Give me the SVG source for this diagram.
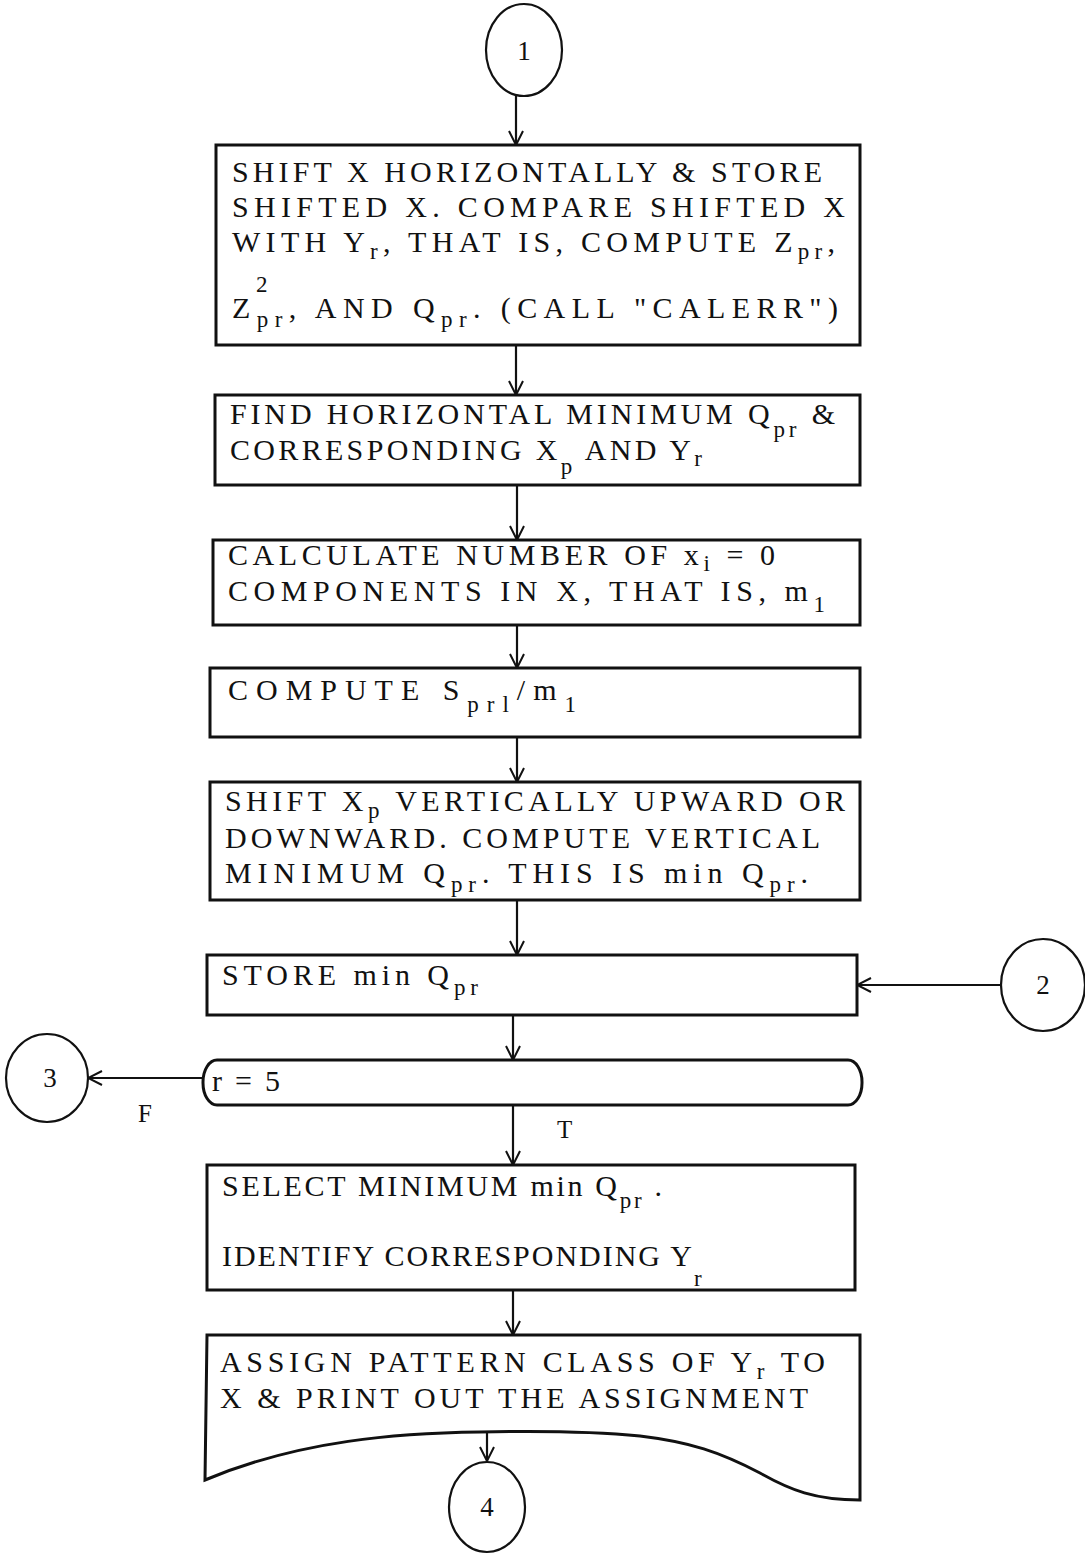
<svg xmlns="http://www.w3.org/2000/svg" width="1085" height="1556" viewBox="0 0 1085 1556">
<defs>
<marker id="arr" viewBox="0 0 20 20" refX="19" refY="10" markerWidth="20" markerHeight="20" markerUnits="userSpaceOnUse" orient="auto-start-reverse">
<path d="M5,3 L19,10 L5,17" fill="none" stroke="#111" stroke-width="2"/>
</marker>
<style>
.box{fill:#fff;stroke:#111;stroke-width:3}
.circ{fill:#fff;stroke:#111;stroke-width:2.2}
.con{fill:none;stroke:#111;stroke-width:2.2}
text{font-family:"Liberation Serif","DejaVu Serif",serif;font-size:30px;fill:#111}
.s{font-size:23px}
.c{font-size:27px;text-anchor:middle}
</style>
</defs>
<rect width="1085" height="1556" fill="#fff"/>

<g id="connectors">
<line class="con" x1="516" y1="96" x2="516" y2="145" marker-end="url(#arr)"/>
<line class="con" x1="516" y1="345" x2="516" y2="395" marker-end="url(#arr)"/>
<line class="con" x1="517" y1="485" x2="517" y2="540" marker-end="url(#arr)"/>
<line class="con" x1="517" y1="625" x2="517" y2="668" marker-end="url(#arr)"/>
<line class="con" x1="517" y1="737" x2="517" y2="782" marker-end="url(#arr)"/>
<line class="con" x1="517" y1="900" x2="517" y2="955" marker-end="url(#arr)"/>
<line class="con" x1="513" y1="1015" x2="513" y2="1060" marker-end="url(#arr)"/>
<line class="con" x1="1000" y1="985" x2="857" y2="985" marker-end="url(#arr)"/>
<line class="con" x1="203" y1="1078" x2="88" y2="1078" marker-end="url(#arr)"/>
<line class="con" x1="513" y1="1105" x2="513" y2="1165" marker-end="url(#arr)"/>
<line class="con" x1="513" y1="1290" x2="513" y2="1335" marker-end="url(#arr)"/>
<line class="con" x1="487" y1="1432" x2="487" y2="1461" marker-end="url(#arr)"/>
<text x="138" y="1122" style="font-size:25px">F</text>
<text x="557" y="1138" style="font-size:25px">T</text>
</g>

<g id="c1">
<ellipse class="circ" cx="524" cy="50" rx="38" ry="46"/>
<text class="c" x="524" y="60">1</text>
</g>

<g id="n1">
<rect class="box" x="216" y="145" width="644" height="200"/>
<text x="232" y="182" textLength="590" lengthAdjust="spacing">SHIFT X HORIZONTALLY &amp; STORE</text>
<text x="232" y="217" textLength="613" lengthAdjust="spacing">SHIFTED X.  COMPARE SHIFTED X</text>
<text x="232" y="252" textLength="603" lengthAdjust="spacing">WITH Y<tspan class="s" dy="7">r</tspan><tspan dy="-7">, THAT IS, COMPUTE Z</tspan><tspan class="s" dy="7">pr</tspan><tspan dy="-7">,</tspan></text>
<text class="s" x="256" y="292">2</text>
<text x="232" y="318" textLength="606" lengthAdjust="spacing">Z<tspan class="s" dy="9">pr</tspan><tspan dy="-9">, AND Q</tspan><tspan class="s" dy="9">pr</tspan><tspan dy="-9">. (CALL "CALERR")</tspan></text>
</g>

<g id="n2">
<rect class="box" x="215" y="395" width="645" height="90"/>
<text x="230" y="424" textLength="605" lengthAdjust="spacing">FIND HORIZONTAL MINIMUM Q<tspan class="s" dy="13">pr</tspan><tspan dy="-13"> &amp;</tspan></text>
<text x="230" y="460" textLength="472" lengthAdjust="spacing">CORRESPONDING X<tspan class="s" dy="14">p</tspan><tspan dy="-14"> AND Y</tspan><tspan class="s" dy="6">r</tspan></text>
</g>

<g id="n3">
<rect class="box" x="213" y="540" width="647" height="85"/>
<text x="228" y="565" textLength="547" lengthAdjust="spacing">CALCULATE NUMBER OF x<tspan class="s" dy="6">i</tspan><tspan dy="-6"> = 0</tspan></text>
<text x="228" y="601" textLength="597" lengthAdjust="spacing">COMPONENTS IN X, THAT IS, m<tspan class="s" dy="11">1</tspan></text>
</g>

<g id="n4">
<rect class="box" x="210" y="668" width="650" height="69"/>
<text x="228" y="700" textLength="348" lengthAdjust="spacing">COMPUTE S<tspan class="s" dy="12">prl</tspan><tspan dy="-12">/m</tspan><tspan class="s" dy="12">1</tspan></text>
</g>

<g id="n5">
<rect class="box" x="210" y="782" width="650" height="118"/>
<text x="225" y="811" textLength="620" lengthAdjust="spacing">SHIFT X<tspan class="s" dy="7">p</tspan><tspan dy="-7"> VERTICALLY UPWARD OR</tspan></text>
<text x="225" y="848" textLength="595" lengthAdjust="spacing">DOWNWARD. COMPUTE VERTICAL</text>
<text x="225" y="883" textLength="583" lengthAdjust="spacing">MINIMUM Q<tspan class="s" dy="9">pr</tspan><tspan dy="-9">. THIS IS min Q</tspan><tspan class="s" dy="9">pr</tspan><tspan dy="-9">.</tspan></text>
</g>

<g id="n6">
<rect class="box" x="207" y="955" width="650" height="60"/>
<text x="222" y="985" textLength="256" lengthAdjust="spacing">STORE min Q<tspan class="s" dy="10">pr</tspan></text>
</g>

<g id="c2">
<ellipse class="circ" cx="1043" cy="985" rx="42" ry="46"/>
<text class="c" x="1043" y="994">2</text>
</g>

<g id="d1">
<rect class="box" x="203" y="1060" width="659" height="45" rx="14" ry="22"/>
<text x="212" y="1091" textLength="68" lengthAdjust="spacing">r = 5</text>
</g>

<g id="c3">
<ellipse class="circ" cx="47" cy="1078" rx="41" ry="44"/>
<text class="c" x="50" y="1087">3</text>
</g>

<g id="n7">
<rect class="box" x="207" y="1165" width="648" height="125"/>
<text x="222" y="1196" textLength="440" lengthAdjust="spacing">SELECT MINIMUM min Q<tspan class="s" dy="12">pr</tspan><tspan dy="-12"> .</tspan></text>
<text x="222" y="1266" textLength="470" lengthAdjust="spacing">IDENTIFY CORRESPONDING Y</text>
<text class="s" x="694" y="1286">r</text>
</g>

<g id="n8">
<path class="box" d="M207,1335 L860,1335 L860,1500 C815,1500 790,1490 760,1473 C720,1452 690,1442 640,1436 C590,1431 530,1431 480,1432 C400,1433 300,1440 205,1480 Z"/>
<text x="220" y="1372" textLength="605" lengthAdjust="spacing">ASSIGN PATTERN CLASS OF Y<tspan class="s" dy="7">r</tspan><tspan dy="-7"> TO</tspan></text>
<text x="220" y="1408" textLength="588" lengthAdjust="spacing">X &amp; PRINT OUT THE ASSIGNMENT</text>
</g>

<g id="c4">
<ellipse class="circ" cx="487" cy="1507" rx="38" ry="45"/>
<text class="c" x="487" y="1516">4</text>
</g>
</svg>
